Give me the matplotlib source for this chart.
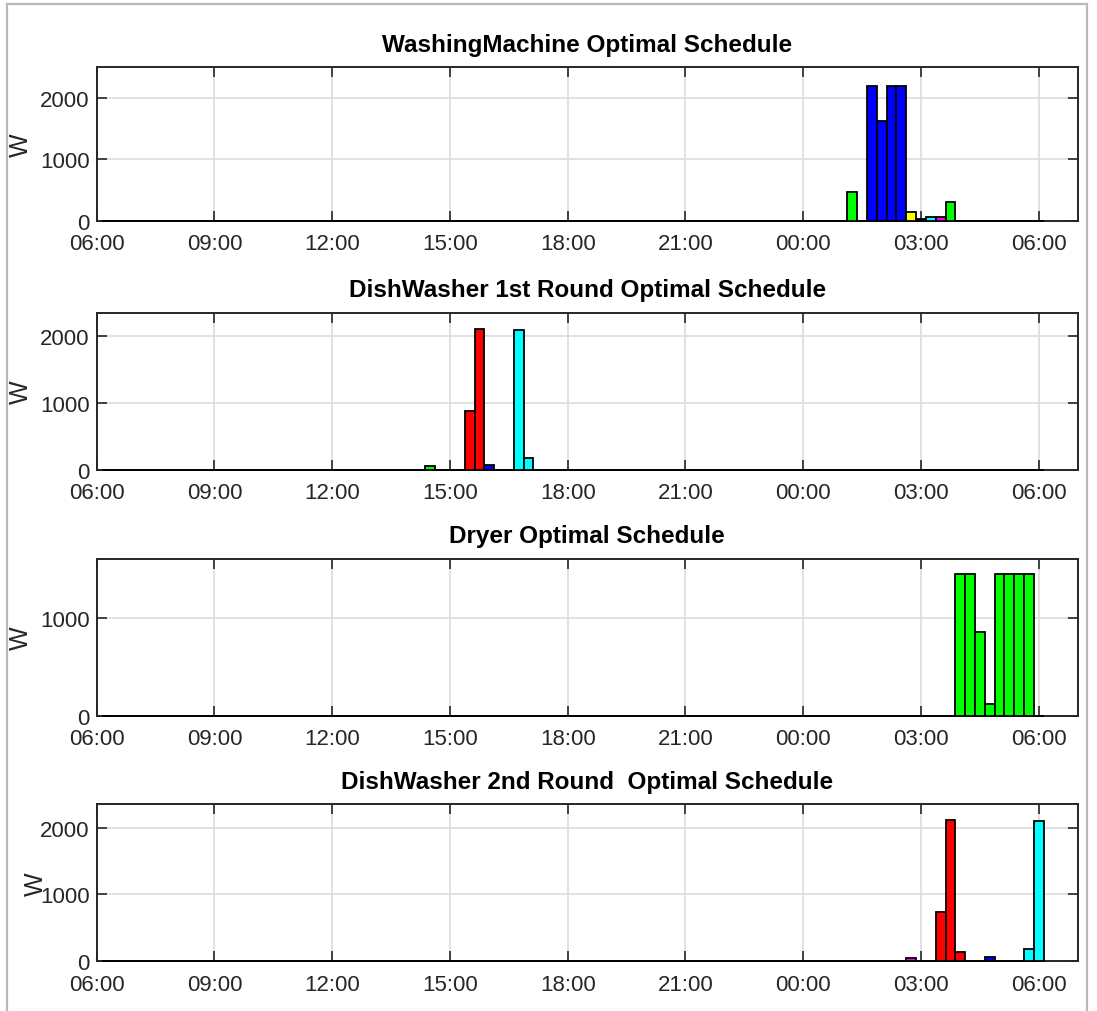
import numpy as np
import pandas as pd
import matplotlib
matplotlib.use('Agg')
from matplotlib import pyplot as plt
from matplotlib.patches import Rectangle

plt.rcParams['font.family'] = ['Liberation Sans', 'DejaVu Sans']

# 15 minute slots, 06:15 .. 06:00 next day
slot_times = pd.date_range('2020-01-01 06:15', periods=96, freq='15min')

# non-zero slots (time, watts, matlab colour letter)
wm_times = ['01:15', '01:45', '02:00', '02:15', '02:30', '02:45', '03:00', '03:15', '03:30', '03:45']
wm_power = [470, 2200, 1620, 2200, 2200, 135, 30, 55, 55, 308]
wm_colors = ['g', 'b', 'b', 'b', 'b', 'y', 'k', 'c', 'm', 'g']

dw1_times = ['14:30', '15:30', '15:45', '16:00', '16:45', '17:00']
dw1_power = [60, 880, 2110, 70, 2100, 184]
dw1_colors = ['g', 'r', 'r', 'b', 'c', 'c']

dryer_times = ['04:00', '04:15', '04:30', '04:45', '05:00', '05:15', '05:30', '05:45']
dryer_power = [1450, 1450, 855, 115, 1450, 1450, 1450, 1450]
dryer_colors = ['g'] * 8

dw2_times = ['02:45', '03:30', '03:45', '04:00', '04:45', '05:45', '06:00']
dw2_power = [55, 745, 2120, 135, 60, 185, 2105]
dw2_colors = ['m', 'r', 'r', 'r', 'b', 'c', 'c']

titles = ['WashingMachine Optimal Schedule',
          'DishWasher 1st Round Optimal Schedule',
          'Dryer Optimal Schedule',
          'DishWasher 2nd Round  Optimal Schedule']
xtick_labels = ['06:00', '09:00', '12:00', '15:00', '18:00', '21:00', '00:00', '03:00', '06:00']

matlab_colors = {'g': '#00ff00', 'b': '#0000ff', 'r': '#ff0000', 'c': '#00ffff',
                 'm': '#ff00ff', 'y': '#ffff00', 'k': '#000000'}


def to_hour(s):
    hh, mm = s.split(':')
    h = int(hh) + int(mm) / 60
    return h + 24 if h < 6.25 else h


def build_series(times, power, colors):
    hours = np.array([(t - pd.Timestamp('2020-01-01')) / pd.Timedelta(hours=1) for t in slot_times])
    values = np.zeros(len(hours))
    cols = ['white'] * len(hours)
    for t, p, c in zip(times, power, colors):
        i = int(np.argmin(np.abs(hours - to_hour(t))))
        values[i] = p
        cols[i] = matlab_colors[c]
    return hours, values, cols


series = [build_series(wm_times, wm_power, wm_colors),
          build_series(dw1_times, dw1_power, dw1_colors),
          build_series(dryer_times, dryer_power, dryer_colors),
          build_series(dw2_times, dw2_power, dw2_colors)]
ylims = [2500, 2350, 1600, 2350]
yticks = [[0, 1000, 2000], [0, 1000, 2000], [0, 1000], [0, 1000, 2000]]

# axes boxes in pixels (top, bottom) of a 1097x1012 canvas
W, H = 1097, 1012
boxes = [(68.3, 221.7), (314, 471), (560, 716.7), (805.3, 962.3)]
left, right = 96.7, 1078
ylabel_x = [-0.065, -0.065, -0.065, -0.05]

fig = plt.figure(figsize=(W / 100, H / 100), dpi=100)
fig.patches.append(Rectangle((7 / W, -0.02), (1087 - 7) / W, 1.02 - 5 / H,
                             transform=fig.transFigure, fill=False,
                             edgecolor='#b8b8b8', linewidth=1.6))

for k, (top, bottom) in enumerate(boxes):
    ax = fig.add_axes([left / W, 1 - bottom / H, (right - left) / W, (bottom - top) / H])
    hours, values, cols = series[k]
    ax.bar(hours, values, width=0.25, color=cols, edgecolor='black', linewidth=1.3,
           zorder=3, clip_on=False)
    ax.set_xlim(6, 31)
    ax.set_ylim(0, ylims[k])
    ax.set_xticks(np.arange(6, 31, 3))
    ax.set_xticklabels(xtick_labels)
    ax.set_yticks(yticks[k])
    ax.grid(True, color='#dcdcdc', linewidth=1.2)
    ax.set_axisbelow(True)
    ax.tick_params(direction='in', length=7.5, width=1.2, top=True, right=True,
                   labelsize=16, colors='#262626')
    ax.tick_params(axis='x', pad=9)
    ax.tick_params(axis='y', pad=5)
    for sp in ax.spines.values():
        sp.set_color('#262626')
        sp.set_linewidth(1.4)
    ax.set_title(titles[k], fontsize=17.5, fontweight='bold', pad=12)
    ax.set_ylabel('W', fontsize=18, color='#262626')
    ax.yaxis.set_label_coords(ylabel_x[k], 0.5)

fig.savefig('out.png', dpi=100)
